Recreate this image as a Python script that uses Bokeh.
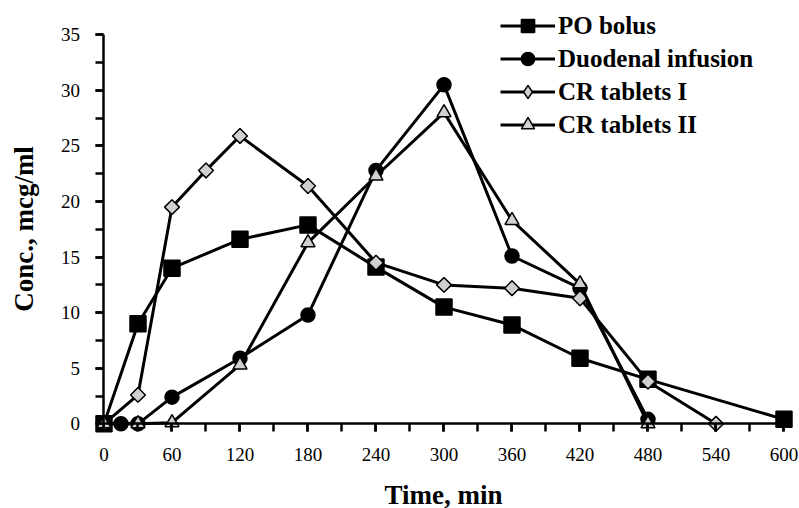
import numpy as np
from bokeh.plotting import figure
from bokeh.models import Range1d, Legend, LegendItem, SingleIntervalTicker
from bokeh.embed import file_html
from bokeh.resources import INLINE

# ---- data ----
time_po = [0, 30, 60, 120, 180, 240, 300, 360, 420, 480, 600]
conc_po = [0, 9.0, 14.0, 16.6, 17.9, 14.1, 10.5, 8.9, 5.9, 4.0, 0.4]

time_duo = [0, 15, 30, 60, 120, 180, 240, 300, 360, 420, 480]
conc_duo = [0, 0, 0, 2.4, 5.9, 9.8, 22.8, 30.5, 15.1, 12.2, 0.4]

time_cr1 = [0, 30, 60, 90, 120, 180, 240, 300, 360, 420, 480, 540]
conc_cr1 = [0, 2.6, 19.5, 22.8, 25.9, 21.4, 14.5, 12.5, 12.2, 11.3, 3.8, 0]

time_cr2 = [0, 30, 60, 120, 180, 240, 300, 360, 420, 480]
conc_cr2 = [0, 0, 0.1, 5.3, 16.3, 22.3, 28.0, 18.3, 12.6, 0]

series_names = ["PO bolus", "Duodenal infusion", "CR tablets I", "CR tablets II"]
x_title = "Time, min"
y_title = "Conc., mcg/ml"

FONT = "Liberation Serif"
GRAY = "#d0d0d0"

p = figure(width=799, height=508, output_backend="svg", toolbar_location=None,
           x_range=Range1d(-91.32, 613.68), y_range=Range1d(-7.62, 38.09),
           min_border_left=0, min_border_right=0, min_border_top=0, min_border_bottom=0)
p.outline_line_color = None
p.xgrid.visible = False
p.ygrid.visible = False
p.background_fill_color = "white"
p.border_fill_color = "white"

# axes
p.xaxis.fixed_location = 0
p.yaxis.fixed_location = 0
p.xaxis.bounds = (0, 600)
p.yaxis.bounds = (0, 35)
p.xaxis.ticker = SingleIntervalTicker(interval=60, num_minor_ticks=2)
p.yaxis.ticker = SingleIntervalTicker(interval=5, num_minor_ticks=2)
for ax in (p.xaxis, p.yaxis):
    ax.axis_line_width = 2.5
    ax.axis_line_color = "black"
    ax.major_tick_line_width = 2.5
    ax.minor_tick_line_width = 2.5
    ax.major_tick_line_color = "black"
    ax.minor_tick_line_color = "black"
    ax.major_tick_in = 0
    ax.minor_tick_in = 0
    ax.major_tick_out = 8
    ax.minor_tick_out = 8
    ax.major_label_text_font = FONT
    ax.major_label_text_font_size = "19px"
    ax.major_label_text_color = "black"
    ax.axis_label_text_font = FONT
    ax.axis_label_text_font_style = "bold"
    ax.axis_label_text_font_size = "27px"
    ax.axis_label_text_color = "black"
p.xaxis.axis_label = x_title
p.yaxis.axis_label = y_title
p.xaxis.major_label_standoff = 16
p.yaxis.major_label_standoff = 16
p.xaxis.axis_label_standoff = 16
p.yaxis.axis_label_standoff = 19

# series
items = []
specs = [
    (time_po, conc_po, "square", 16, "black", 0.0, None),
    (time_duo, conc_duo, "circle", 14, "black", 0.0, None),
    (time_cr1, conc_cr1, "square", 10.5, GRAY, np.pi / 4, "diamond"),
    (time_cr2, conc_cr2, "triangle", 14, GRAY, 0.0, None),
]
for name, (t, c, marker, size, fill, angle, legend_marker) in zip(series_names, specs):
    ln = p.line(t, c, line_width=3, line_color="black")
    rends = [ln]
    if legend_marker is not None:
        # narrow diamond, fully hidden under the rotated squares; used for the legend key
        proxy = p.scatter(t, c, marker=legend_marker, size=13, fill_color=fill,
                          line_color="black", line_width=1.5)
        rends.append(proxy)
    sc = p.scatter(t, c, marker=marker, size=size, fill_color=fill, line_color="black",
                   line_width=1.5, angle=angle)
    if legend_marker is None:
        rends.append(sc)
    items.append(LegendItem(label=name, renderers=rends))

legend = Legend(items=items, location=(500, 367))
legend.border_line_color = None
legend.background_fill_alpha = 0
legend.padding = 0
legend.margin = 0
legend.spacing = 0
legend.glyph_width = 55
legend.glyph_height = 33
legend.label_height = 20
legend.label_standoff = 3
legend.label_text_font = FONT
legend.label_text_font_style = "bold"
legend.label_text_font_size = "25px"
legend.label_text_color = "black"
p.add_layout(legend)

open("out.html", "w").write(file_html(p, INLINE))
